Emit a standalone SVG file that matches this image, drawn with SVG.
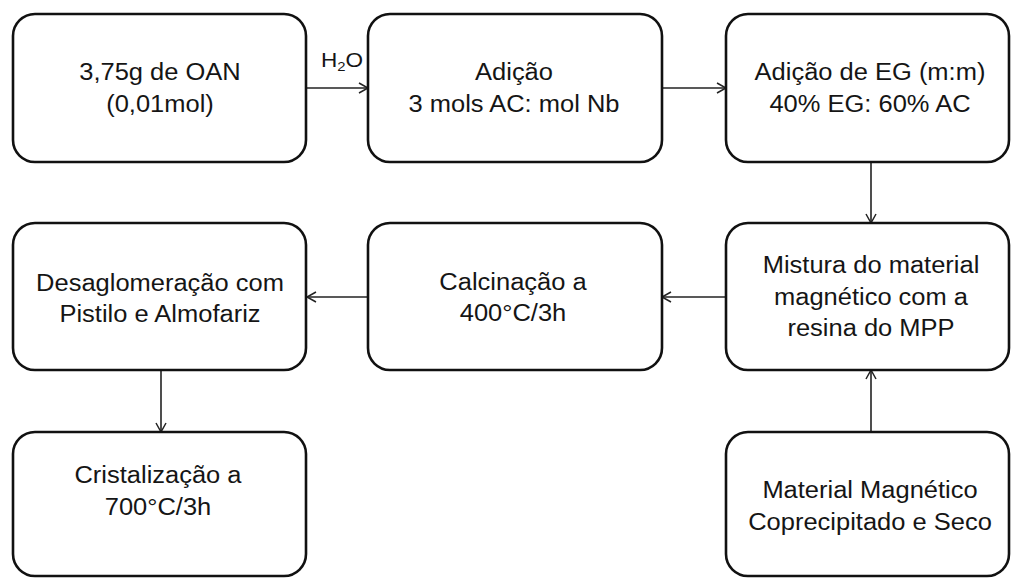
<svg xmlns="http://www.w3.org/2000/svg" width="1012" height="578" viewBox="0 0 1012 578">
<defs>
<style>
.box{fill:#fff;stroke:#111;stroke-width:2.6}
.t{font-family:"Liberation Sans",Arial,sans-serif;font-size:23.5px;fill:#151515;text-anchor:middle}
.c{fill:none;stroke:#222;stroke-width:1.6}
</style>
<marker id="ah" markerWidth="12" markerHeight="12" refX="10" refY="6" orient="auto" markerUnits="userSpaceOnUse">
<path d="M1,1 L10,6 L1,11" fill="none" stroke="#222" stroke-width="1.5"/>
</marker>
</defs>
<rect width="1012" height="578" fill="#fff"/>
<g id="connectors">
<line class="c" x1="307" y1="88" x2="368" y2="88" marker-end="url(#ah)"/>
<line class="c" x1="662" y1="88" x2="726" y2="88" marker-end="url(#ah)"/>
<line class="c" x1="871" y1="162" x2="871" y2="223" marker-end="url(#ah)"/>
<line class="c" x1="726" y1="297" x2="662" y2="297" marker-end="url(#ah)"/>
<line class="c" x1="368" y1="297" x2="307" y2="297" marker-end="url(#ah)"/>
<line class="c" x1="161" y1="370" x2="161" y2="432" marker-end="url(#ah)"/>
<line class="c" x1="871" y1="432" x2="871" y2="370" marker-end="url(#ah)"/>
<text class="t" style="font-size:20.5px;text-anchor:start" transform="translate(321 67) scale(1.1 1)" x="0" y="0">H<tspan style="font-size:13.5px" dy="4">2</tspan><tspan dy="-4">O</tspan></text>
</g>
<g id="n1">
<rect class="box" x="13" y="14" width="293" height="148" rx="22"/>
<text class="t" transform="translate(160 0) scale(1.085 1)" x="0" y="80">3,75g de OAN</text>
<text class="t" transform="translate(160 0) scale(1.085 1)" x="0" y="112">(0,01mol)</text>
</g>
<g id="n2">
<rect class="box" x="368" y="14" width="294" height="148" rx="22"/>
<text class="t" transform="translate(514 0) scale(1.085 1)" x="0" y="80">Adição</text>
<text class="t" transform="translate(514 0) scale(1.085 1)" x="0" y="112">3 mols AC: mol Nb</text>
</g>
<g id="n3">
<rect class="box" x="726" y="14" width="283" height="148" rx="22"/>
<text class="t" transform="translate(870 0) scale(1.085 1)" x="0" y="80">Adição de EG (m:m)</text>
<text class="t" transform="translate(870 0) scale(1.085 1)" x="0" y="112">40% EG: 60% AC</text>
</g>
<g id="n4">
<rect class="box" x="726" y="223" width="283" height="147" rx="22"/>
<text class="t" transform="translate(871 0) scale(1.085 1)" x="0" y="273">Mistura do material</text>
<text class="t" transform="translate(871 0) scale(1.085 1)" x="0" y="305">magnético com a</text>
<text class="t" transform="translate(871 0) scale(1.085 1)" x="0" y="336">resina do MPP</text>
</g>
<g id="n5">
<rect class="box" x="368" y="223" width="294" height="147" rx="22"/>
<text class="t" transform="translate(513 0) scale(1.085 1)" x="0" y="290">Calcinação a</text>
<text class="t" transform="translate(513 0) scale(1.085 1)" x="0" y="321">400°C/3h</text>
</g>
<g id="n6">
<rect class="box" x="13" y="223" width="293" height="147" rx="22"/>
<text class="t" transform="translate(160 0) scale(1.085 1)" x="0" y="291">Desaglomeração com</text>
<text class="t" transform="translate(160 0) scale(1.085 1)" x="0" y="322">Pistilo e Almofariz</text>
</g>
<g id="n7">
<rect class="box" x="13" y="432" width="293" height="144" rx="22"/>
<text class="t" transform="translate(158 0) scale(1.085 1)" x="0" y="483">Cristalização a</text>
<text class="t" transform="translate(158 0) scale(1.085 1)" x="0" y="515">700°C/3h</text>
</g>
<g id="n8">
<rect class="box" x="726" y="432" width="283" height="144" rx="22"/>
<text class="t" transform="translate(870 0) scale(1.085 1)" x="0" y="498">Material Magnético</text>
<text class="t" transform="translate(870 0) scale(1.085 1)" x="0" y="530">Coprecipitado e Seco</text>
</g>
</svg>
